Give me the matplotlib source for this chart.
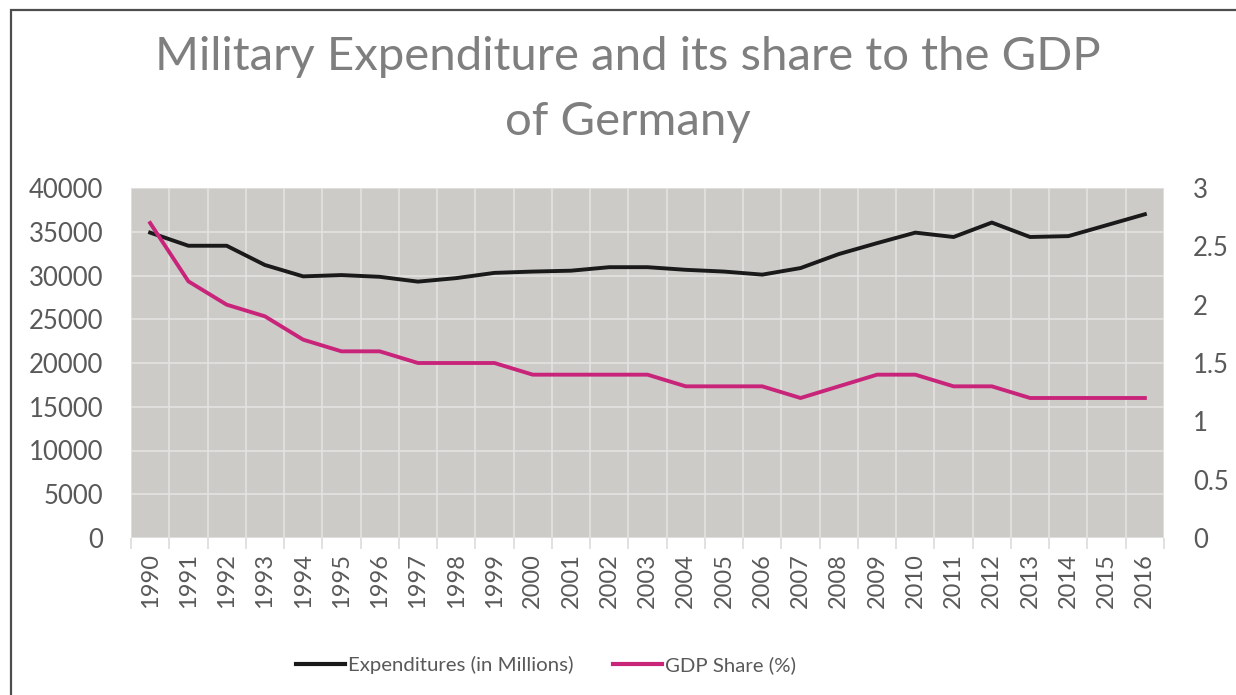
import numpy as np
import matplotlib
matplotlib.use("Agg")
import matplotlib.pyplot as plt
from matplotlib.patches import Rectangle
from matplotlib.ticker import FixedLocator, FuncFormatter

# データ
years = [str(y) for y in range(1990, 2017)]
expenditure = [34900, 33400, 33400, 31200, 29900, 30050, 29850, 29300, 29700, 30300,
               30450, 30550, 30950, 30950, 30650, 30450, 30100, 30850, 32450, 33700,
               34900, 34400, 36050, 34400, 34500, 35750, 37000]
gdp_share = [2.7, 2.2, 2.0, 1.9, 1.7, 1.6, 1.6, 1.5, 1.5, 1.5,
             1.4, 1.4, 1.4, 1.4, 1.3, 1.3, 1.3, 1.2, 1.3, 1.4,
             1.4, 1.3, 1.3, 1.2, 1.2, 1.2, 1.2]

W, H = 1236, 695
BG = "#cdcbc8"
GRID = "#e4e3e1"
BLACK = "#1a1a1a"
PINK = "#c8247a"
TXT = "#595959"

plt.rcParams["font.family"] = ["Lato", "DejaVu Sans"]

fig = plt.figure(figsize=(W / 100, H / 100), dpi=100)
ax = fig.add_axes([131 / W, 1 - 538 / H, (1164 - 131) / W, (538 - 188) / H])
ax2 = ax.twinx()

x = np.arange(len(years))
ax.plot(x, expenditure, color=BLACK, lw=2.8, solid_joinstyle="round", zorder=3)
ax2.plot(x, gdp_share, color=PINK, lw=2.8, solid_joinstyle="round", zorder=3)

ax.set_facecolor(BG)
ax.set_xlim(-0.5, len(years) - 0.5)
ax.set_ylim(0, 40000)
ax2.set_ylim(0, 3)
ax.set_yticks(np.arange(0, 40001, 5000))
ax2.set_yticks(np.arange(0, 3.01, 0.5))
ax2.yaxis.set_major_formatter(FuncFormatter(lambda v, p: f"{v:g}"))

# カテゴリ境界のグリッド
ax.set_xticks(x)
ax.set_xticklabels(years, rotation=90)
ax.xaxis.set_minor_locator(FixedLocator(np.arange(-0.5, len(years), 1.0)))
ax.grid(True, which="minor", axis="x", color=GRID, lw=1.2)
ax.grid(True, which="major", axis="y", color=GRID, lw=1.2)
ax.set_axisbelow(True)

ax.tick_params(axis="x", which="major", length=0, pad=11, labelsize=17, labelcolor=TXT)
ax.tick_params(axis="x", which="minor", length=8, width=1.2, color="#dcdcdc")
ax.tick_params(axis="y", length=0, pad=20, labelsize=18.5, labelcolor=TXT)
ax2.tick_params(axis="y", length=0, pad=21, labelsize=18.5, labelcolor=TXT)

for a in (ax, ax2):
    for s in a.spines.values():
        s.set_visible(False)

# タイトル
fig.text(628 / W, 1 - 70 / H, "Military Expenditure and its share to the GDP",
         ha="center", va="baseline", fontsize=34, color="#7f7f7f")
fig.text(628 / W, 1 - 135 / H, "of Germany",
         ha="center", va="baseline", fontsize=34, color="#7f7f7f")

# 凡例
l1, = ax.plot([], [], color=BLACK, lw=3, label="Expenditures (in Millions)")
l2, = ax.plot([], [], color=PINK, lw=3, label="GDP Share (%)")
fig.legend(handles=[l1, l2], loc="center", bbox_to_anchor=(546 / W, 1 - 665 / H),
           ncol=2, frameon=False, fontsize=14.7, labelcolor=TXT,
           handlelength=2.4, handletextpad=0.15, columnspacing=1.9)

# 枠線
fig.patches.append(Rectangle((11 / W, -0.1), 1.2, 1.1 - 10 / H, transform=fig.transFigure,
                             fill=False, edgecolor="#4d4d4d", lw=1.6))

fig.savefig("out.png", dpi=100, facecolor="white")
